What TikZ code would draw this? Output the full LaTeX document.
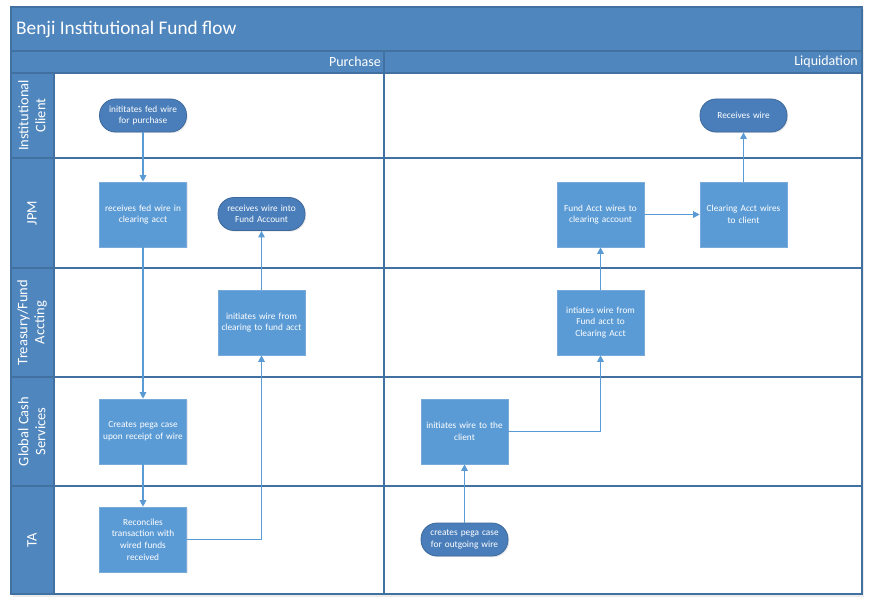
\documentclass[tikz,border=0pt]{standalone}
\usepackage{fontspec}
\setmainfont{Carlito}
\usetikzlibrary{arrows.meta,shadows}
\definecolor{band}{RGB}{79,134,189}
\definecolor{bandline}{RGB}{65,113,160}
\definecolor{boxfill}{RGB}{91,155,213}
\definecolor{boxline}{RGB}{120,170,220}
\definecolor{pillfill}{RGB}{74,126,187}
\definecolor{pillline}{RGB}{60,104,155}
\definecolor{conn}{RGB}{91,155,213}
\begin{document}
\begin{tikzpicture}[x=1pt,y=-1pt,
  stepbox/.style={draw=boxline, line width=0.6pt, fill=boxfill, minimum width=87pt, minimum height=65pt,
    text width=86pt, align=center, text=white, inner sep=0pt,
    font=\fontsize{9.3}{11.6}\selectfont,
    drop shadow={opacity=0.18, shadow xshift=1.2pt, shadow yshift=-1.2pt}},
  pill/.style={draw=pillline, line width=0.8pt, fill=pillfill, rounded corners=16pt, minimum width=87pt, minimum height=33pt,
    text width=86pt, align=center, text=white, inner sep=0pt,
    font=\fontsize{9.3}{11.6}\selectfont,
    drop shadow={opacity=0.18, shadow xshift=1.2pt, shadow yshift=-1.2pt}},
  flow/.style={draw=conn, line width=1.2pt, -{Triangle[length=6.5pt,width=6.5pt]}},
  lanelbl/.style={rotate=90, text=white, font=\fontsize{14.5}{17}\selectfont, align=center, inner sep=0pt},
  frame/.style={draw=bandline, line width=1.1pt}
]
\useasboundingbox (0,0) rectangle (872,607);
\fill[white] (0,0) rectangle (872,607);
% bands
\fill[black, opacity=0.08] (13,9) rectangle (864,597);
\fill[white] (11,7) rectangle (862,594);
\fill[band] (11,7) rectangle (862,73);
\fill[band] (11,73) rectangle (54,594);
% grid lines
\draw[frame] (11,51) -- (862,51);
\draw[frame] (11,73) -- (862,73);
\foreach \yy in {158,268,377,486} {\draw[frame] (11,\yy) -- (862,\yy);}
\draw[frame] (384,51) -- (384,594);
\draw[frame] (54,73) -- (54,594);
\draw[frame] (11,7) rectangle (862,594);
% headings
\node[anchor=west, text=white, font=\fontsize{19.3}{21}\selectfont, inner sep=0pt] (title) at (16,29) {Benji Institutional Fund flow};
\node[anchor=east, text=white, font=\fontsize{14}{15}\selectfont, inner sep=0pt] (hp) at (381,62) {Purchase};
\node[anchor=east, text=white, font=\fontsize{14}{15}\selectfont, inner sep=0pt] (hl) at (858,62) {Liquidation};
% lane labels
\node[lanelbl] (l1) at (32,115.5) {Institutional\\Client};
\node[lanelbl] (l2) at (32,213) {JPM};
\node[lanelbl] (l3) at (32,322.5) {Treasury/Fund\\Accting};
\node[lanelbl] (l4) at (32,431.5) {Global Cash\\Services};
\node[lanelbl] (l5) at (32,540) {TA};
% purchase nodes
\node[pill] (c1) at (143,115.5) {inititates fed wire\\for purchase};
\node[stepbox] (j1) at (143,214.5) {receives fed wire in\\clearing acct};
\node[pill] (j2) at (261.5,214) {receives wire into\\Fund Account};
\node[stepbox] (t1) at (261.5,322.5) {initiates wire from\\clearing to fund acct};
\node[stepbox] (g1) at (143,431.5) {Creates pega case\\upon receipt of wire};
\node[stepbox] (a1) at (143,539.5) {Reconciles\\transaction with\\wired funds\\received};
% liquidation nodes
\node[stepbox] (g2) at (464.5,431.5) {initiates wire to the\\client};
\node[pill] (a2) at (464.5,539.5) {creates pega case\\for outgoing wire};
\node[stepbox] (t2) at (600.5,322.5) {intiates wire from\\Fund acct to\\Clearing Acct};
\node[stepbox] (j3) at (600.5,214.5) {Fund Acct wires to\\clearing account};
\node[stepbox] (j4) at (743.5,214.5) {Clearing Acct wires\\to client};
\node[pill] (c2) at (743.5,115.5) {Receives wire};
% connectors
\draw[flow] (c1) -- (j1);
\draw[flow] (j1) -- (g1);
\draw[flow] (g1) -- (a1);
\draw[flow] (a1.east) -| (t1.south);
\draw[flow] (t1) -- (j2);
\draw[flow] (a2) -- (g2);
\draw[flow] (g2.east) -| (t2.south);
\draw[flow] (t2) -- (j3);
\draw[flow] (j3) -- (j4);
\draw[flow] (j4) -- (c2);
\end{tikzpicture}
\end{document}
